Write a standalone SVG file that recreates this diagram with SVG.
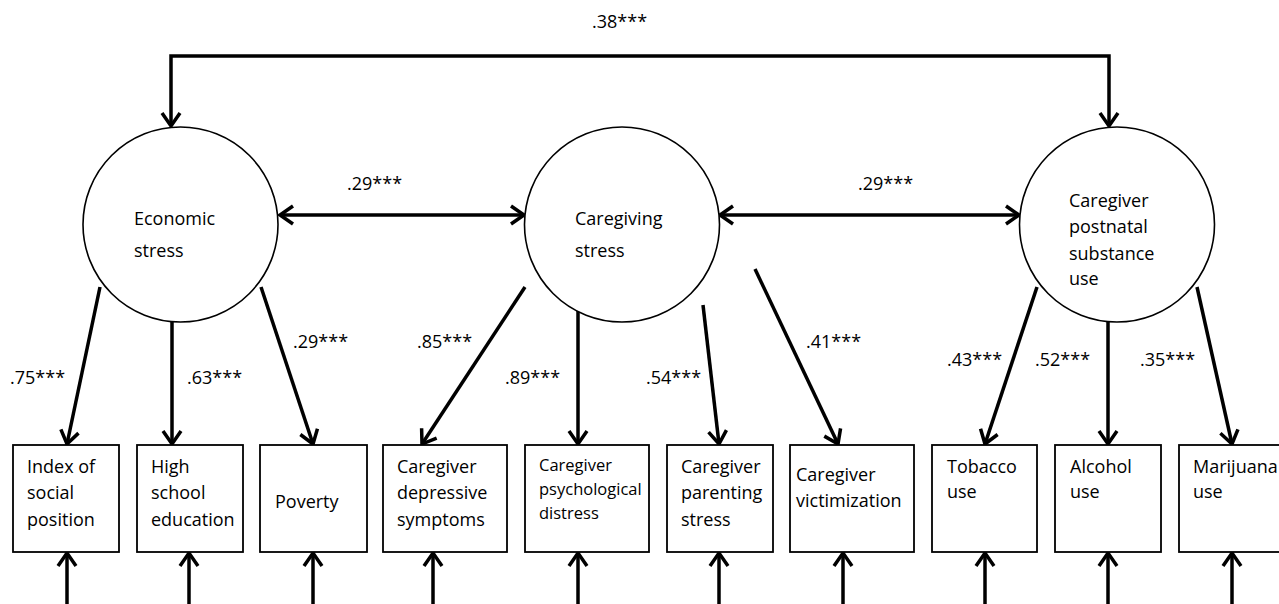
<svg xmlns="http://www.w3.org/2000/svg" width="1279" height="604" viewBox="0 0 1279 604">
<style>
.bg{fill:#fff}
.lat{fill:#fff;stroke:#000;stroke-width:1.6}
.obs{fill:#fff;stroke:#000;stroke-width:1.8}
.t{font-family:"Open Sans","Liberation Sans",sans-serif;font-size:18px;fill:#000}
.ts{font-family:"Open Sans","Liberation Sans",sans-serif;font-size:16.5px;fill:#000}
.c{fill:none;stroke:#000;stroke-width:3.5;marker-end:url(#ah)}
.cb{fill:none;stroke:#000;stroke-width:3.5;marker-start:url(#ah);marker-end:url(#ah)}
</style>
<defs>
<marker id="ah" markerUnits="userSpaceOnUse" markerWidth="24" markerHeight="24" viewBox="0 0 24 24" refX="19" refY="12" orient="auto-start-reverse">
<path d="M6,3 L19,12 L6,21" fill="none" stroke="#000" stroke-width="3.5" stroke-linejoin="miter"/>
</marker>
</defs>
<rect class="bg" x="0" y="0" width="1279" height="604"/>

<g id="connectors">
<path class="cb" d="M171,126 V56 H1109 V126"/>
<line class="cb" x1="280" y1="215" x2="524" y2="215"/>
<line class="cb" x1="720" y1="215" x2="1019" y2="215"/>
<line class="c" x1="100" y1="287" x2="67" y2="444"/>
<line class="c" x1="172" y1="322" x2="172" y2="444"/>
<line class="c" x1="261" y1="287" x2="313" y2="444"/>
<line class="c" x1="525" y1="287" x2="422" y2="444"/>
<line class="c" x1="578" y1="305" x2="578" y2="444"/>
<line class="c" x1="703" y1="305" x2="719" y2="444"/>
<line class="c" x1="755" y1="269" x2="838" y2="444"/>
<line class="c" x1="1037" y1="287" x2="985" y2="444"/>
<line class="c" x1="1108" y1="322" x2="1108" y2="444"/>
<line class="c" x1="1197" y1="287" x2="1232" y2="444"/>
<line class="c" x1="67" y1="610" x2="67" y2="553"/>
<line class="c" x1="189" y1="610" x2="189" y2="553"/>
<line class="c" x1="313" y1="610" x2="313" y2="553"/>
<line class="c" x1="433" y1="610" x2="433" y2="553"/>
<line class="c" x1="578" y1="610" x2="578" y2="553"/>
<line class="c" x1="719" y1="610" x2="719" y2="553"/>
<line class="c" x1="843" y1="610" x2="843" y2="553"/>
<line class="c" x1="985" y1="610" x2="985" y2="553"/>
<line class="c" x1="1108" y1="610" x2="1108" y2="553"/>
<line class="c" x1="1232" y1="610" x2="1232" y2="553"/>
</g>

<g id="labels">
<text class="t" x="592" y="28">.38***</text>
<text class="t" x="347" y="190">.29***</text>
<text class="t" x="858" y="190">.29***</text>
<text class="t" x="10" y="384">.75***</text>
<text class="t" x="187" y="384">.63***</text>
<text class="t" x="293" y="348">.29***</text>
<text class="t" x="417" y="348">.85***</text>
<text class="t" x="505" y="384">.89***</text>
<text class="t" x="646" y="384">.54***</text>
<text class="t" x="806" y="348">.41***</text>
<text class="t" x="947" y="366">.43***</text>
<text class="t" x="1035" y="366">.52***</text>
<text class="t" x="1140" y="366">.35***</text>
</g>

<g id="economic-stress">
<circle class="lat" cx="180.5" cy="224.5" r="97.5"/>
<text class="t" x="134" y="225">Economic</text>
<text class="t" x="134" y="257">stress</text>
</g>
<g id="caregiving-stress">
<circle class="lat" cx="622" cy="224.5" r="97.5"/>
<text class="t" x="575" y="225">Caregiving</text>
<text class="t" x="575" y="257">stress</text>
</g>
<g id="caregiver-postnatal-substance-use">
<circle class="lat" cx="1117" cy="224.5" r="97.5"/>
<text class="t" x="1069" y="207">Caregiver</text>
<text class="t" x="1069" y="233">postnatal</text>
<text class="t" x="1069" y="260">substance</text>
<text class="t" x="1069" y="285">use</text>
</g>

<g id="index-social-position">
<rect class="obs" x="13" y="445" width="106" height="107"/>
<text class="t" x="27" y="473">Index of</text>
<text class="t" x="27" y="499">social</text>
<text class="t" x="27" y="526">position</text>
</g>
<g id="high-school-education">
<rect class="obs" x="137" y="445" width="106" height="107"/>
<text class="t" x="151" y="473">High</text>
<text class="t" x="151" y="499">school</text>
<text class="t" x="151" y="526">education</text>
</g>
<g id="poverty">
<rect class="obs" x="260" y="445" width="107" height="107"/>
<text class="t" x="275" y="508">Poverty</text>
</g>
<g id="caregiver-depressive-symptoms">
<rect class="obs" x="383" y="445" width="124" height="107"/>
<text class="t" x="397" y="473">Caregiver</text>
<text class="t" x="397" y="499">depressive</text>
<text class="t" x="397" y="526">symptoms</text>
</g>
<g id="caregiver-psychological-distress">
<rect class="obs" x="525" y="445" width="124" height="107"/>
<text class="ts" x="539" y="471">Caregiver</text>
<text class="ts" x="539" y="495">psychological</text>
<text class="ts" x="539" y="519">distress</text>
</g>
<g id="caregiver-parenting-stress">
<rect class="obs" x="667" y="445" width="106" height="107"/>
<text class="t" x="681" y="473">Caregiver</text>
<text class="t" x="681" y="499">parenting</text>
<text class="t" x="681" y="526">stress</text>
</g>
<g id="caregiver-victimization">
<rect class="obs" x="790" y="445" width="124" height="107"/>
<text class="t" x="796" y="481">Caregiver</text>
<text class="t" x="796" y="507">victimization</text>
</g>
<g id="tobacco-use">
<rect class="obs" x="932" y="445" width="105" height="107"/>
<text class="t" x="947" y="473">Tobacco</text>
<text class="t" x="947" y="498">use</text>
</g>
<g id="alcohol-use">
<rect class="obs" x="1055" y="445" width="106" height="107"/>
<text class="t" x="1070" y="473">Alcohol</text>
<text class="t" x="1070" y="498">use</text>
</g>
<g id="marijuana-use">
<rect class="obs" x="1179" y="445" width="106" height="107"/>
<text class="t" x="1193" y="473">Marijuana</text>
<text class="t" x="1193" y="498">use</text>
</g>
</svg>
